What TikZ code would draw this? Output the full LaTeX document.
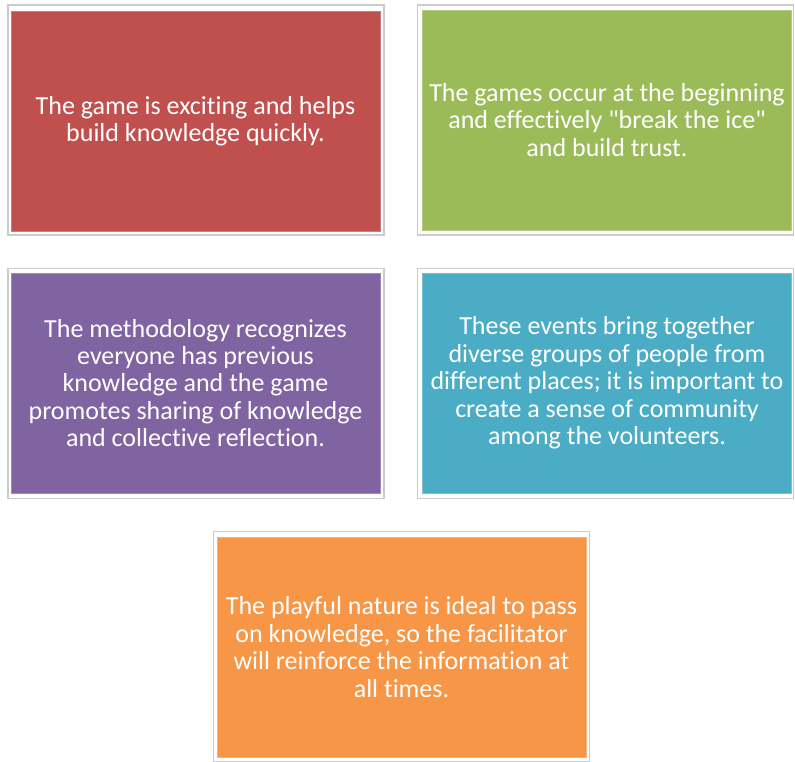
\documentclass[tikz,border=0pt]{standalone}
\usepackage{fontspec}
\setmainfont{Carlito}[Ligatures={NoCommon,TeXOff}]
\definecolor{cred}{HTML}{C0504D}
\definecolor{cgreen}{HTML}{9BBB59}
\definecolor{cpurple}{HTML}{8064A2}
\definecolor{cteal}{HTML}{4BACC6}
\definecolor{corange}{HTML}{F79646}
\begin{document}
\begin{tikzpicture}[x=1pt,y=-1pt,
  frame/.style={draw=black!20, line width=1.2pt, fill=white, inner sep=0pt, minimum width=376pt, minimum height=230pt},
  card/.style={draw=#1!75!white, line width=0.8pt, fill=#1, text=white, align=center, inner sep=0pt,
    minimum width=369pt, minimum height=220pt, font=\fontsize{26}{27.4}\selectfont},
]
\useasboundingbox (0,0) rectangle (795,762);
% frames
\node[frame] (fa) at (196,120) {};
\node[frame] (fb) at (605.5,120) {};
\node[frame] (fc) at (196,383.5) {};
\node[frame] (fd) at (605.5,383.5) {};
\node[frame] (fe) at (401.5,646.5) {};
% cards
\node[card=cred] (a) at (195.5,121) {The game is exciting and helps\\build knowledge quickly.};
\node[card=cgreen] (b) at (607,120) {The games occur at the beginning\\and effectively "break the ice"\\and build trust.};
\node[card=cpurple] (c) at (195.5,383) {The methodology recognizes\\everyone has previous\\knowledge and the game\\promotes sharing of knowledge\\and collective reflection.};
\node[card=cteal] (d) at (607,383) {These events bring together\\diverse groups of people from\\different places; it is important to\\create a sense of community\\among the volunteers.};
\node[card=corange] (e) at (401.5,647) {The playful nature is ideal to pass\\on knowledge, so the facilitator\\will reinforce the information at\\all times.};
\end{tikzpicture}
\end{document}
